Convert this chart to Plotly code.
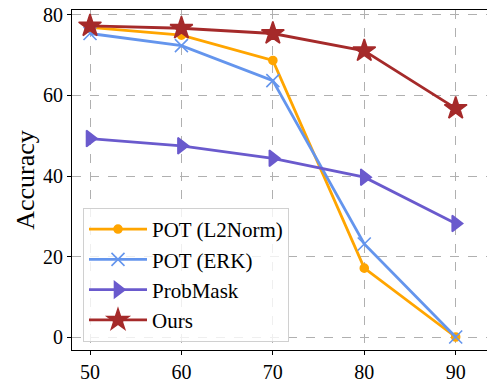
import plotly.graph_objects as go

sparsity = [50, 60, 70, 80, 90]
pot_l2norm = [76.9, 75.0, 68.7, 17.1, 0.0]
pot_erk = [75.4, 72.4, 63.7, 23.1, 0.0]
probmask = [49.3, 47.5, 44.4, 39.7, 28.2]
ours = [77.3, 76.7, 75.4, 71.1, 56.8]

series = [
    ("POT (L2Norm)", pot_l2norm, "#FFA500", "circle", 8),
    ("POT (ERK)", pot_erk, "#6495ED", "x-thin-open", 13),
    ("ProbMask", probmask, "#6A5ACD", "triangle-right", 14),
    ("Ours", ours, "#A52A2A", "star", 17),
]

fig = go.Figure()
for i, (name, vals, color, sym, size) in enumerate(series):
    fig.add_trace(go.Scatter(
        x=sparsity, y=vals, name=name, mode="lines+markers",
        legendgroup=f"g{i}",
        line=dict(color=color, width=2.8),
        marker=dict(symbol=sym, size=size, color=color,
                    line=dict(color=color, width=1.6)),
    ))

# the page body adds an 8px offset; the figure is sized to fill the rest
font = "Liberation Serif, Times New Roman, serif"
fig.update_layout(
    template="none",
    width=487, height=371,
    margin=dict(l=64, r=0, t=2, b=29),
    plot_bgcolor="white", paper_bgcolor="white",
    font=dict(family=font, size=20, color="black"),
    showlegend=True,
    legend=dict(
        x=0.026, y=0.418, xanchor="left", yanchor="top",
        bgcolor="rgba(255,255,255,0.8)", bordercolor="#d0d0d0", borderwidth=1,
        font=dict(family=font, size=21, color="black"),
        itemwidth=58, tracegroupgap=0,
    ),
)
fig.update_xaxes(
    range=[48.03, 94.3], tickvals=sparsity, ticks="outside", ticklen=4,
    tickcolor="black", automargin=False, ticklabeloverflow="allow",
    showline=True, linecolor="black", linewidth=1.2, mirror=True,
    showgrid=True, gridcolor="#b0b0b0", griddash="dash", gridwidth=1,
    zeroline=False, tickfont=dict(size=20),
)
fig.update_yaxes(
    range=[-3.23, 81.24], tickvals=[0, 20, 40, 60, 80], ticks="outside", ticklen=4,
    tickcolor="black", automargin=False, ticklabeloverflow="allow",
    showline=True, linecolor="black", linewidth=1.2,
    showgrid=True, gridcolor="#b0b0b0", griddash="dash", gridwidth=1,
    zeroline=False, tickfont=dict(size=20),
    title=dict(text="Accuracy", font=dict(size=26), standoff=0),
)
fig.write_html("out.html")
